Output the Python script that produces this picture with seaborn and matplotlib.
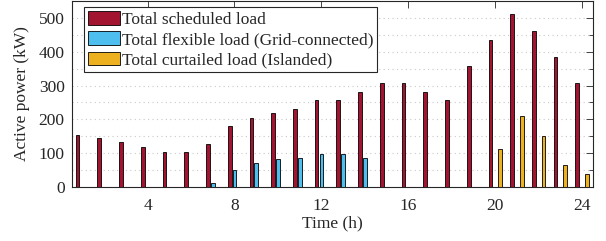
import numpy as np
import matplotlib
matplotlib.use("Agg")
import matplotlib.pyplot as plt
import pandas as pd
import seaborn as sns

# hourly values (kW)
hours = list(range(1, 25))
scheduled = [153, 144, 134, 118, 103, 103, 128, 180, 205, 220, 230, 256,
             256, 282, 307, 307, 282, 256, 358, 435, 512, 461, 384, 307]
flexible = [0, 0, 0, 0, 0, 0, 13, 49, 71, 83, 87, 97,
            97, 87, 0, 0, 0, 0, 0, 0, 0, 0, 0, 0]
curtailed = [0, 0, 0, 0, 0, 0, 0, 0, 0, 0, 0, 0,
             0, 0, 0, 0, 0, 0, 0, 113, 210, 152, 66, 37]
series_names = ['Total scheduled load',
                'Total flexible load (Grid-connected)',
                'Total curtailed load (Islanded)']
colors = ['#A2142F', '#4DBEEE', '#EDB120']


def main():
    df = pd.DataFrame({
        'Time': hours * 3,
        'Power': scheduled + flexible + curtailed,
        'Series': [series_names[0]] * 24 + [series_names[1]] * 24 + [series_names[2]] * 24,
    })

    sns.set_style('white')
    plt.rcParams['font.family'] = ['Liberation Serif', 'DejaVu Serif']

    fig = plt.figure(figsize=(6.06, 2.41), dpi=100)
    ax = fig.add_axes([0.118, 0.224, 0.8605, 0.772])

    sns.barplot(data=df, x='Time', y='Power', hue='Series', hue_order=series_names,
                palette=colors, native_scale=True, width=0.66, gap=0.22,
                edgecolor='black', linewidth=0.6, saturation=1, errorbar=None,
                ax=ax, zorder=3)

    ax.set_xlim(0.5, 24.5)
    ax.set_ylim(0, 550)
    ax.set_xticks([4, 8, 12, 16, 20, 24])
    ax.set_yticks([0, 100, 200, 300, 400, 500])
    ax.set_yticks(np.arange(50, 550, 100), minor=True)
    ax.tick_params(axis='both', which='both', direction='in', top=True, right=True,
                   labelsize=12.5, colors='#262626')
    ax.tick_params(axis='x', pad=8)
    ax.tick_params(axis='y', pad=5)
    ax.tick_params(which='major', length=5, width=0.6)
    ax.tick_params(which='minor', length=3, width=0.6)
    for y in np.arange(50, 550, 50):
        ax.axhline(y, color='#c8c8c8', linestyle=(0, (1, 3)), linewidth=0.8, zorder=0)
    for s in ax.spines.values():
        s.set_color('#262626')
        s.set_linewidth(0.8)

    ax.set_xlabel('Time (h)', fontsize=12.5, color='#262626', labelpad=1)
    ax.set_ylabel('Active power (kW)', fontsize=12.5, color='#262626', labelpad=6)

    leg = ax.legend(loc='upper left', bbox_to_anchor=(0.0245, 0.966), borderaxespad=0,
                    fontsize=12.5, frameon=True, fancybox=False, framealpha=1,
                    edgecolor='#262626', handlelength=1.85, handleheight=0.85,
                    handletextpad=0.15, labelspacing=0.2, borderpad=0.2)
    leg.get_frame().set_linewidth(0.8)
    for t in leg.get_texts():
        t.set_color('#262626')

    fig.savefig('out.png', dpi=100)
    plt.close(fig)


if __name__ == "__main__":
    main()
